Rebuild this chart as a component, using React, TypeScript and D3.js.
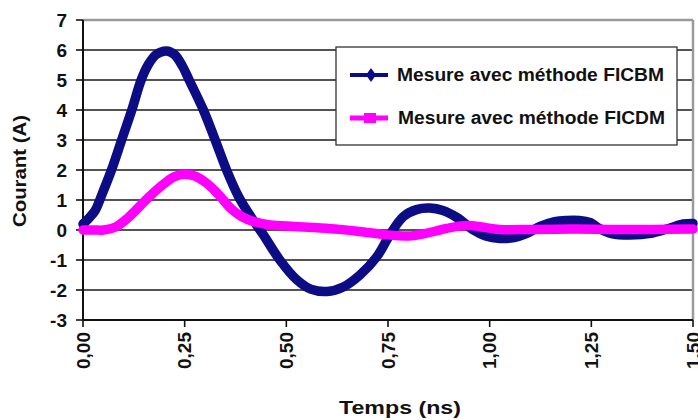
import React from "react";
import * as d3 from "d3";

const xTicks = [0, 0.25, 0.5, 0.75, 1.0, 1.25, 1.5];
const xTickLabels = ["0,00", "0,25", "0,50", "0,75", "1,00", "1,25", "1,50"];
const yTicks = [-3, -2, -1, 0, 1, 2, 3, 4, 5, 6, 7];

const seriesNames = ["Mesure avec méthode FICBM", "Mesure avec méthode FICDM"];

const ficbmT = [0.0, 0.015, 0.03, 0.047, 0.07, 0.095, 0.12, 0.143, 0.16, 0.18, 0.205, 0.225, 0.245, 0.261, 0.296, 0.325, 0.353, 0.383, 0.415, 0.443, 0.484, 0.525, 0.56, 0.6, 0.64, 0.681, 0.722, 0.755, 0.788, 0.82, 0.853, 0.885, 0.919, 0.96, 0.99, 1.025, 1.06, 1.09, 1.124, 1.16, 1.19, 1.22, 1.247, 1.27, 1.3, 1.345, 1.4, 1.44, 1.476, 1.5];
const ficbmV = [0.2, 0.4, 0.65, 1.2, 2.0, 3.0, 4.0, 5.0, 5.5, 5.85, 5.97, 5.85, 5.45, 5.0, 4.0, 3.0, 2.0, 1.1, 0.4, -0.15, -1.0, -1.65, -1.97, -2.05, -1.9, -1.5, -0.9, -0.15, 0.45, 0.68, 0.73, 0.65, 0.42, 0.0, -0.2, -0.28, -0.25, -0.12, 0.12, 0.28, 0.32, 0.32, 0.25, 0.05, -0.12, -0.17, -0.1, 0.05, 0.2, 0.22];

const ficdmT = [0.0, 0.03, 0.05, 0.08, 0.11, 0.14, 0.17, 0.2, 0.225, 0.25, 0.275, 0.3, 0.325, 0.345, 0.365, 0.39, 0.42, 0.46, 0.52, 0.57, 0.62, 0.68, 0.74, 0.8, 0.84, 0.878, 0.92, 0.95, 0.98, 1.025, 1.1, 1.2, 1.3, 1.4, 1.5];
const ficdmV = [0.0, 0.0, 0.0, 0.1, 0.4, 0.8, 1.2, 1.55, 1.78, 1.86, 1.8, 1.6, 1.3, 1.0, 0.7, 0.45, 0.28, 0.17, 0.12, 0.08, 0.03, -0.05, -0.15, -0.2, -0.12, 0.0, 0.12, 0.15, 0.1, 0.02, 0.02, 0.03, 0.02, 0.02, 0.03];

const BLUE = "#0c0c84";
const PINK = "#ff00ff";
const FONT = "'Liberation Sans', Arial, sans-serif";

export default function App() {
  const W = 698, H = 420;
  const x = d3.scaleLinear().domain([0, 1.5]).range([83, 693]);
  const y = d3.scaleLinear().domain([-3, 7]).range([320, 20]);

  const line = d3
    .line<[number, number]>()
    .x((d) => x(d[0]))
    .y((d) => y(d[1]))
    .curve(d3.curveCatmullRom.alpha(0.5));

  const blue = ficbmT.map((t, i) => [t, ficbmV[i]] as [number, number]);
  const pink = ficdmT.map((t, i) => [t, ficdmV[i]] as [number, number]);

  const x0 = x(0), x1 = x(1.5), yTop = y(7), yBot = y(-3);

  return (
    <svg width={W} height={H} style={{ display: "block", background: "#fff" }} fontFamily={FONT}>
      <style>{`body{margin:0}`}</style>
      <rect x={0} y={0} width={W} height={H} fill="#fff" />
      {yTicks.filter((v) => v > -3 && v < 7).map((v) => (
        <line key={v} x1={x0} x2={x1} y1={y(v)} y2={y(v)} stroke="#1a1a1a" strokeWidth={1.6} />
      ))}
      <line x1={x0} x2={x1} y1={yTop} y2={yTop} stroke="#9a9a9a" strokeWidth={2.5} />
      <line x1={x1} x2={x1} y1={yTop} y2={yBot} stroke="#9a9a9a" strokeWidth={2.5} />
      <line x1={x0} x2={x0} y1={yTop} y2={yBot} stroke="#111" strokeWidth={2} />
      <line x1={x0} x2={x1} y1={yBot} y2={yBot} stroke="#111" strokeWidth={2} />
      {yTicks.map((v) => (
        <g key={"yt" + v}>
          <line x1={x0 - 7} x2={x0} y1={y(v)} y2={y(v)} stroke="#111" strokeWidth={1.6} />
          <text x={67} y={y(v)} dy="0.36em" textAnchor="end" fontSize={19} fontWeight="bold" fill="#111">
            {v}
          </text>
        </g>
      ))}
      {xTicks.map((v, i) => (
        <g key={"xt" + v}>
          <line x1={x(v)} x2={x(v)} y1={yBot} y2={yBot + 7} stroke="#111" strokeWidth={1.6} />
          <text
            transform={`translate(${x(v) + 6.5},${332}) rotate(-90)`}
            textAnchor="end"
            fontSize={19}
            fontWeight="bold"
            fill="#111"
          >
            {xTickLabels[i]}
          </text>
        </g>
      ))}
      <path d={line(blue) || ""} fill="none" stroke={BLUE} strokeWidth={9.5} strokeLinejoin="round" strokeLinecap="round" />
      <path d={line(pink) || ""} fill="none" stroke={PINK} strokeWidth={9.5} strokeLinejoin="round" strokeLinecap="round" />
      <rect x={336} y={47} width={341} height={98} fill="#fff" stroke="#333" strokeWidth={1.3} />
      <line x1={350} x2={388} y1={75} y2={75} stroke={BLUE} strokeWidth={4} />
      <path d={`M371,68 L376,75 L371,82 L366,75 Z`} fill={BLUE} />
      <text x={397} y={75} dy="0.36em" fontSize={18} fontWeight="bold" fill="#111" textLength={267} lengthAdjust="spacingAndGlyphs">
        {seriesNames[0]}
      </text>
      <line x1={350} x2={388} y1={118} y2={118} stroke={PINK} strokeWidth={5} />
      <rect x={364} y={113} width={12} height={10} fill={PINK} />
      <text x={398} y={118} dy="0.36em" fontSize={18} fontWeight="bold" fill="#111" textLength={267} lengthAdjust="spacingAndGlyphs">
        {seriesNames[1]}
      </text>
      <text x={400} y={414} textAnchor="middle" fontSize={18} fontWeight="bold" fill="#111" textLength={122} lengthAdjust="spacingAndGlyphs">
        Temps (ns)
      </text>
      <text
        transform={`translate(26,171) rotate(-90)`}
        textAnchor="middle"
        fontSize={18}
        fontWeight="bold"
        fill="#111"
        textLength={112}
        lengthAdjust="spacingAndGlyphs"
      >
        Courant (A)
      </text>
    </svg>
  );
}
